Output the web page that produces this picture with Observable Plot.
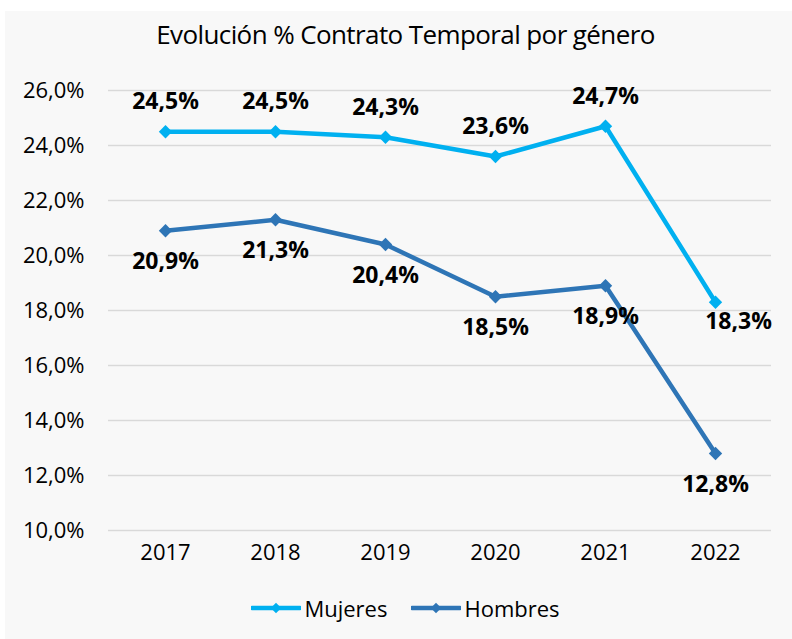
<!DOCTYPE html>
<html>
<head>
<meta charset="utf-8">
<script src="https://cdn.jsdelivr.net/npm/d3@7"></script>
<script src="https://cdn.jsdelivr.net/npm/@observablehq/plot@0.6"></script>
<style>
  html, body { margin: 0; padding: 0; background: #ffffff; }
  #panel { position: absolute; left: 5px; top: 11px; width: 787px; height: 628px; background: #f8f8f8; font-family: "Open Sans", sans-serif; overflow: hidden; }
  #title { position: absolute; left: 0; top: 0; width: 787px; height: 46px; line-height: 46px; text-align: center; font-size: 26px; letter-spacing: -0.6px; color: #000; padding-left: 14px; box-sizing: border-box; }
  #chart { position: absolute; left: 0; top: 44px; }
  #legend { position: absolute; left: 0; top: 569px; width: 787px; height: 56px; display: flex; justify-content: center; align-items: center; gap: 24px; font-size: 22px; color: #000; padding-left: 14px; box-sizing: border-box; }
  .item { display: flex; align-items: center; gap: 3px; }
</style>
</head>
<body>
<div id="panel">
  <div id="title">Evolución % Contrato Temporal por género</div>
  <div id="chart"></div>
  <div id="legend"></div>
</div>
<script>
const years = ["2017", "2018", "2019", "2020", "2021", "2022"];
const mujeres = [24.5, 24.5, 24.3, 23.6, 24.7, 18.3];
const hombres = [20.9, 21.3, 20.4, 18.5, 18.9, 12.8];
const seriesNames = ["Mujeres", "Hombres"];
const seriesColors = ["#00b0f0", "#2e75b6"];
const yTicks = [10, 12, 14, 16, 18, 20, 22, 24, 26];

const fmt = v => v.toFixed(1).replace(".", ",") + "%";

const data = [];
years.forEach((y, i) => {
  data.push({year: y, serie: seriesNames[0], value: mujeres[i], idx: i});
  data.push({year: y, serie: seriesNames[1], value: hombres[i], idx: i});
});
const muj = data.filter(d => d.serie === "Mujeres");
const hom = data.filter(d => d.serie === "Hombres");
const last = years.length - 1;

const chart = Plot.plot({
  width: 787,
  height: 525,
  marginLeft: 103,
  marginRight: 21,
  marginTop: 35,
  marginBottom: 50,
  style: { background: "transparent", fontFamily: "Open Sans, sans-serif" },
  x: { type: "point", domain: years, padding: 0.5 },
  y: { domain: [10, 26] },
  color: { domain: seriesNames, range: seriesColors },
  marks: [
    Plot.ruleY(yTicks, { stroke: "#d9d9d9", strokeWidth: 1.5 }),
    Plot.axisY({ ticks: yTicks, tickFormat: fmt, tickSize: 0, tickPadding: 24, fontSize: 22, fill: "#000", label: null }),
    Plot.axisX({ tickSize: 0, tickPadding: 14, fontSize: 22, fill: "#000", label: null }),
    Plot.line(data, { x: "year", y: "value", z: "serie", stroke: "serie", strokeWidth: 4.5, curve: "linear" }),
    Plot.dot(data, { x: "year", y: "value", fill: "serie", symbol: "diamond2", r: 6, stroke: "none" }),
    Plot.text(muj.filter(d => d.idx !== last), { x: "year", y: "value", text: d => fmt(d.value), dy: -30, fontSize: 23, fontWeight: "bold", fill: "#000" }),
    Plot.text(muj.filter(d => d.idx === last), { x: "year", y: "value", text: d => fmt(d.value), dy: 19, dx: 23, fontSize: 23, fontWeight: "bold", fill: "#000" }),
    Plot.text(hom, { x: "year", y: "value", text: d => fmt(d.value), dy: 31, fontSize: 23, fontWeight: "bold", fill: "#000" })
  ]
});
document.getElementById("chart").appendChild(chart);

// legend
const legend = document.getElementById("legend");
seriesNames.forEach((name, i) => {
  const item = document.createElement("div");
  item.className = "item";
  const sw = d3.create("svg").attr("width", 50).attr("height", 14);
  sw.append("line").attr("x1", 1).attr("x2", 49).attr("y1", 7).attr("y2", 7)
    .attr("stroke", seriesColors[i]).attr("stroke-width", 4.5).attr("stroke-linecap", "round");
  sw.append("path").attr("d", d3.symbol(d3.symbolDiamond2, 70)()).attr("transform", "translate(25,7)")
    .attr("fill", seriesColors[i]);
  item.appendChild(sw.node());
  const t = document.createElement("span");
  t.textContent = name;
  item.appendChild(t);
  legend.appendChild(item);
});
</script>
</body>
</html>
